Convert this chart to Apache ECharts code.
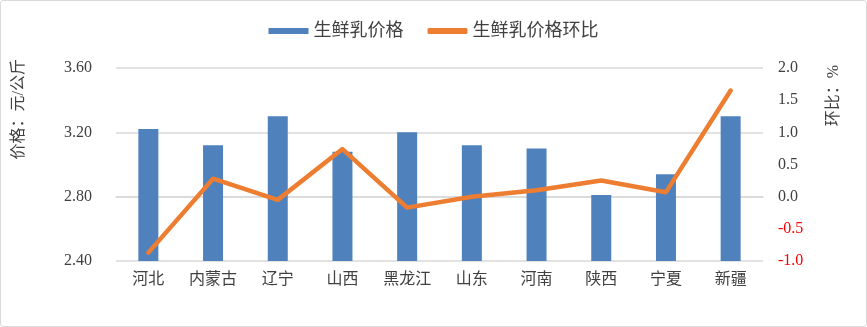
<!DOCTYPE html>
<html><head><meta charset="utf-8">
<script src="https://cdn.jsdelivr.net/npm/echarts@6/dist/echarts.min.js"></script>
<style>
html,body{margin:0;padding:0;background:#fff;}
#c{width:865px;height:325px;border:1px solid #d9d9d9;border-radius:3px;}
</style></head>
<body><div id="c"></div>
<script>
const categories = ['河北','内蒙古','辽宁','山西','黑龙江','山东','河南','陕西','宁夏','新疆'];
const priceValues = [3.22, 3.12, 3.30, 3.08, 3.20, 3.12, 3.10, 2.81, 2.94, 3.30];
const momValues = [-0.87, 0.28, -0.05, 0.74, -0.17, 0.00, 0.10, 0.25, 0.07, 1.65];
const seriesNames = ['生鲜乳价格', '生鲜乳价格环比'];
const leftAxisName = '价格：元/公斤';
const rightAxisName = '环比：%';

const font = "'Liberation Serif','Noto Sans CJK SC',serif";
const chart = echarts.init(document.getElementById('c'));
chart.setOption({
  animation: false,
  textStyle: {fontFamily: font},
  legend: {
    top: 16, left: 'center', itemWidth: 40, itemHeight: 6, itemGap: 24,
    textStyle: {fontSize: 18, color: '#404040', fontFamily: font},
    data: [{name: seriesNames[0], icon: 'rect'}, {name: seriesNames[1], icon: 'roundRect'}]
  },
  grid: {left: 115, right: 103, top: 67, bottom: 65, containLabel: false},
  xAxis: {
    type: 'category', data: categories,
    axisLine: {lineStyle: {color: '#d9d9d9', width: 1.5}},
    axisTick: {show: false},
    axisLabel: {fontSize: 16, color: '#404040', margin: 11, fontFamily: font}
  },
  yAxis: [{
    type: 'value', min: 2.4, max: 3.6, interval: 0.4,
    axisLine: {show: false}, axisTick: {show: false},
    splitLine: {lineStyle: {color: '#d9d9d9', width: 1.5}},
    axisLabel: {fontSize: 16, color: '#404040', margin: 24, formatter: v => v.toFixed(2), fontFamily: font}
  }, {
    type: 'value', min: -1, max: 2, interval: 0.5,
    axisLine: {show: false}, axisTick: {show: false},
    splitLine: {show: false},
    axisLabel: {fontSize: 16, margin: 15, fontFamily: font,
      formatter: v => v.toFixed(1),
      color: v => (parseFloat(v) < 0 ? '#ff0000' : '#404040')}
  }],
  graphic: [
    {type: 'text', left: 10, top: 58, rotation: Math.PI/2,
     style: {text: leftAxisName, fill: '#404040', font: "16px " + font}},
    {type: 'text', left: 825, top: 64, rotation: Math.PI/2,
     style: {text: rightAxisName, fill: '#404040', font: "16px " + font}}
  ],
  series: [{
    name: seriesNames[0], type: 'bar', data: priceValues, barWidth: 20,
    itemStyle: {color: '#4f81bd'}
  }, {
    name: seriesNames[1], type: 'line', yAxisIndex: 1, data: momValues,
    symbol: 'none', lineStyle: {color: '#ed7d31', width: 4.5, cap: 'round', join: 'round'},
    itemStyle: {color: '#ed7d31'}
  }]
});
</script></body></html>
